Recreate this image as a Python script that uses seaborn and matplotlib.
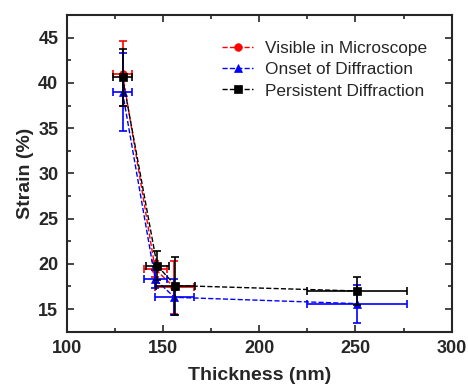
import numpy as np
import pandas as pd
import matplotlib
matplotlib.use("Agg")
import matplotlib.pyplot as plt
import seaborn as sns
from matplotlib.ticker import MultipleLocator

# --- data ---
x_vis = [129, 146, 156]
y_vis = [41.0, 19.4, 17.4]
xerr_vis = [5, 6, 10]
yerr_vis = [3.6, 0.9, 2.9]

x_ons = [129, 146, 156, 251]
y_ons = [39.0, 18.3, 16.3, 15.6]
xerr_ons = [5, 6, 10, 26]
yerr_ons = [4.3, 1.0, 2.0, 2.1]

x_per = [129, 147, 156.5, 251]
y_per = [40.6, 19.8, 17.6, 17.0]
xerr_per = [5, 6, 10, 26]
yerr_per = [3.2, 1.6, 3.2, 1.6]

labels = ['Visible in Microscope', 'Onset of Diffraction', 'Persistent Diffraction']
colors = ['red', 'blue', 'black']
markers = ['o', '^', 's']

series = [
    (x_vis, y_vis, xerr_vis, yerr_vis),
    (x_ons, y_ons, xerr_ons, yerr_ons),
    (x_per, y_per, xerr_per, yerr_per),
]

sns.set_style('ticks')
plt.rcParams['font.family'] = ['Liberation Sans', 'DejaVu Sans']

fig = plt.figure(figsize=(4.68, 3.86), dpi=100)
ax = fig.add_axes([0.1425, 0.1407, 0.8225, 0.8203])

for (x, y, xe, ye), lab, c, m in zip(series, labels, colors, markers):
    df = pd.DataFrame({'Thickness': x, 'Strain': y})
    sns.lineplot(data=df, x='Thickness', y='Strain', ax=ax, color=c, marker=m,
                 markersize=5.5, markeredgewidth=0.5, markeredgecolor=c,
                 linestyle='--', linewidth=1.0, dashes=(3, 2), label=lab, sort=False)
    ax.errorbar(x, y, xerr=xe, yerr=ye, fmt='none', ecolor=c, elinewidth=1.2,
                capsize=3, capthick=1.2)

ax.set_xlim(100, 300)
ax.set_ylim(12.5, 47.5)
ax.xaxis.set_major_locator(MultipleLocator(50))
ax.xaxis.set_minor_locator(MultipleLocator(25))
ax.yaxis.set_major_locator(MultipleLocator(5))
ax.yaxis.set_minor_locator(MultipleLocator(2.5))
ax.tick_params(which='both', direction='in', top=True, right=True, width=1.2)
ax.tick_params(which='major', length=5, labelsize=13, pad=6)
ax.tick_params(which='minor', length=3)
for lbl in ax.get_xticklabels() + ax.get_yticklabels():
    lbl.set_fontweight('bold')
for sp in ax.spines.values():
    sp.set_linewidth(1.5)

ax.set_xlabel('Thickness (nm)', fontsize=14, fontweight='bold', labelpad=7)
ax.set_ylabel('Strain (%)', fontsize=14, fontweight='bold', labelpad=3)

leg = ax.legend(loc='upper right', bbox_to_anchor=(0.955, 0.94), frameon=False,
                fontsize=12.4, handlelength=1.8, handletextpad=0.7, labelspacing=0.36,
                borderaxespad=0)

fig.savefig('out.png', dpi=100)
